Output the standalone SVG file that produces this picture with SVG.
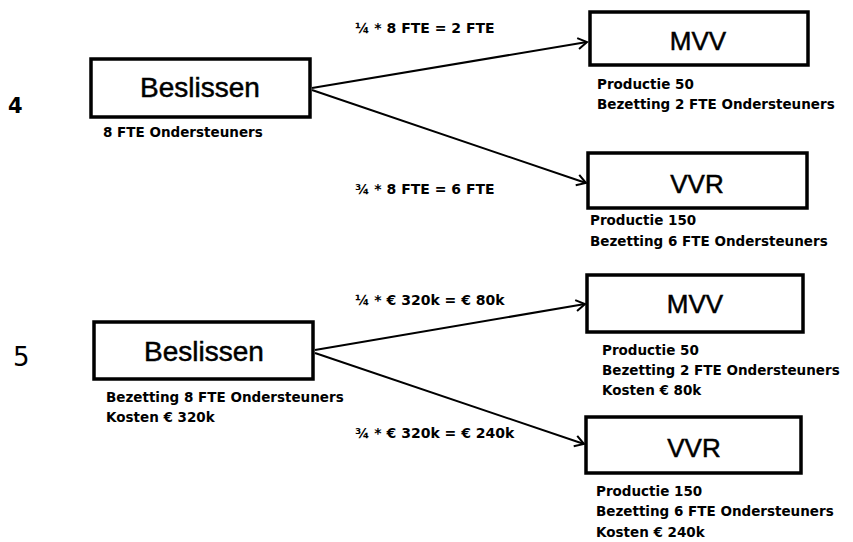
<svg xmlns="http://www.w3.org/2000/svg" width="853" height="542" viewBox="0 0 853 542">
<style>
.box{fill:#fff;stroke:#000;stroke-width:3.5}
.title{font-family:"Liberation Sans",Arial,sans-serif;font-size:28px;fill:#000;stroke:#000;stroke-width:0.5;text-anchor:middle}
.t2{font-family:"Liberation Sans",Arial,sans-serif;font-size:26px;fill:#000;stroke:#000;stroke-width:0.5;text-anchor:middle}
.desc{font-family:"DejaVu Sans",sans-serif;font-weight:bold;font-size:13.5px;fill:#000}
.lbl{font-family:"DejaVu Sans",sans-serif;font-weight:bold;font-size:14px;fill:#000}
.num{font-family:"DejaVu Sans",sans-serif;fill:#000}
.edge{stroke:#000;stroke-width:2;fill:none;marker-end:url(#arr)}
</style>
<defs>
<marker id="arr" markerUnits="userSpaceOnUse" markerWidth="14" markerHeight="14" viewBox="-12 -7 14 14" refX="0" refY="0" orient="auto">
<path d="M-9,-5.5 L0,0 L-9,5.5" fill="none" stroke="#000" stroke-width="2"/>
</marker>
</defs>
<rect width="853" height="542" fill="#fff"/>
<g id="connectors">
<line class="edge" x1="312" y1="88" x2="587" y2="42"/>
<line class="edge" x1="312" y1="90" x2="586" y2="183"/>
<line class="edge" x1="315" y1="350" x2="585" y2="304"/>
<line class="edge" x1="315" y1="353" x2="584" y2="444"/>
</g>
<g id="edge-labels">
<text class="lbl" x="355" y="33">¼ * 8 FTE = 2 FTE</text>
<text class="lbl" x="355" y="194">¾ * 8 FTE = 6 FTE</text>
<text class="lbl" x="355" y="305">¼ * € 320k = € 80k</text>
<text class="lbl" x="355" y="438">¾ * € 320k = € 240k</text>
</g>
<g id="label-4"><text class="num" x="8" y="113" font-size="21" font-weight="bold">4</text></g>
<g id="label-5"><text class="num" x="13" y="366" font-size="26">5</text></g>
<g id="beslissen-4">
<rect class="box" x="91" y="59" width="219" height="58"/>
<text class="title" x="200" y="97">Beslissen</text>
<text class="desc" x="103" y="137">8 FTE Ondersteuners</text>
</g>
<g id="mvv-4">
<rect class="box" x="590" y="12" width="218" height="53"/>
<text class="t2" x="698" y="50">MVV</text>
<text class="desc" x="597" y="89">Productie 50</text>
<text class="desc" x="597" y="109">Bezetting 2 FTE Ondersteuners</text>
</g>
<g id="vvr-4">
<rect class="box" x="588" y="153" width="219" height="55"/>
<text class="t2" x="697" y="193">VVR</text>
<text class="desc" x="590" y="225">Productie 150</text>
<text class="desc" x="590" y="246">Bezetting 6 FTE Ondersteuners</text>
</g>
<g id="beslissen-5">
<rect class="box" x="94" y="322" width="219" height="57"/>
<text class="title" x="204" y="361">Beslissen</text>
<text class="desc" x="106" y="402">Bezetting 8 FTE Ondersteuners</text>
<text class="desc" x="106" y="422">Kosten € 320k</text>
</g>
<g id="mvv-5">
<rect class="box" x="587" y="275" width="216" height="57"/>
<text class="t2" x="695" y="313">MVV</text>
<text class="desc" x="602" y="355">Productie 50</text>
<text class="desc" x="602" y="375">Bezetting 2 FTE Ondersteuners</text>
<text class="desc" x="602" y="395">Kosten € 80k</text>
</g>
<g id="vvr-5">
<rect class="box" x="586" y="417" width="215" height="56"/>
<text class="t2" x="694" y="457">VVR</text>
<text class="desc" x="596" y="496">Productie 150</text>
<text class="desc" x="596" y="516">Bezetting 6 FTE Ondersteuners</text>
<text class="desc" x="596" y="537">Kosten € 240k</text>
</g>
</svg>
